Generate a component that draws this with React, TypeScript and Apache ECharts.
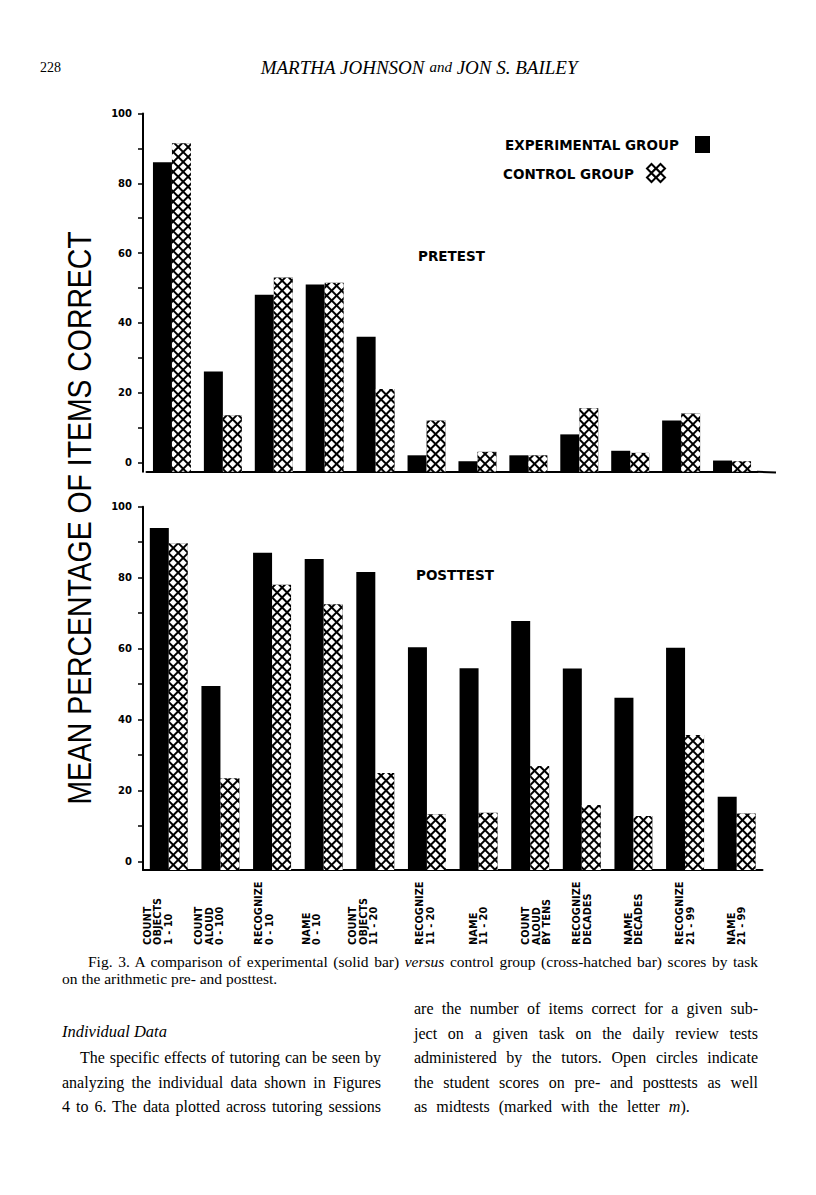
import React, { useEffect, useRef } from 'react';
import * as echarts from 'echarts';

// ---------------- data ----------------
const categories = [
  'COUNT\nOBJECTS\n1 - 10',
  'COUNT\nALOUD\n0 - 100',
  'RECOGNIZE\n0 - 10',
  'NAME\n0 - 10',
  'COUNT\nOBJECTS\n11 - 20',
  'RECOGNIZE\n11 - 20',
  'NAME\n11 - 20',
  'COUNT\nALOUD\nBY TENS',
  'RECOGNIZE\nDECADES',
  'NAME\nDECADES',
  'RECOGNIZE\n21 - 99',
  'NAME\n21 - 99',
];
const pretestExperimental = [86, 26, 48, 51, 36, 2, 0.3, 2, 8, 3.3, 12, 0.5];
const pretestControl = [91.5, 13.5, 53, 51.5, 21, 12, 3, 2, 15.5, 2.7, 14, 0.3];
const posttestExperimental = [94, 49.5, 87, 85.3, 81.6, 60.4, 54.5, 67.8, 54.4, 46.2, 60.3, 18.3];
const posttestControl = [89.7, 23.5, 78, 72.5, 25, 13.4, 13.8, 27, 16, 12.9, 35.7, 13.6];
const tickValues = [0, 10, 20, 30, 40, 50, 60, 70, 80, 90, 100];
const labelValues = [0, 20, 40, 60, 80, 100];
const legendNames = ['EXPERIMENTAL GROUP', 'CONTROL GROUP'];
const panelTitles = ['PRETEST', 'POSTTEST'];
const yTitle = 'MEAN PERCENTAGE OF ITEMS CORRECT';

// horizontal nudge (px) of each category label block, as printed
const labelShift = [-11, -11, -8, -12, -12, -2, 0, 6, 0, 0, 0, 0];

const BOLD = '"DejaVu Sans", Verdana, sans-serif';
const SANS = '"Liberation Sans", Arial, sans-serif';
const SERIF = '"Liberation Serif", "Times New Roman", serif';

const hatch = {
  symbol: 'rect',
  symbolSize: 1,
  color: '#fff',
  dashArrayX: [4.1, 1.7],
  dashArrayY: [4.1, 1.7],
  rotation: Math.PI / 4,
};

// spacer lines (rich styles) used to nudge the rotated label blocks sideways
const spacerRich: Record<string, any> = {};
labelShift.forEach((s) => {
  const h = Math.abs(2 * s);
  if (h > 0) spacerRich['g' + h] = { lineHeight: h, fontSize: 9.8, fontFamily: '"DejaVu Sans", sans-serif' };
});

function yAxisFor(gridIndex: number, min: number, offset: number) {
  return {
    type: 'value',
    gridIndex,
    min,
    max: 100,
    startValue: min,
    offset,
    axisLine: { show: true, lineStyle: { color: '#000', width: 2 } },
    axisTick: {
      show: true,
      inside: false,
      length: 5,
      lineStyle: { color: '#000', width: 1.5 },
      customValues: tickValues,
    },
    axisLabel: {
      show: true,
      margin: 11,
      color: '#000',
      fontFamily: BOLD,
      fontWeight: 'bold',
      fontSize: 10,
      customValues: labelValues,
    },
    splitLine: { show: false },
  };
}

function barSeries(name: string, axis: number, data: number[], hatched: boolean) {
  return {
    type: 'bar',
    name,
    xAxisIndex: axis,
    yAxisIndex: axis,
    data,
    barWidth: 19,
    barGap: '0%',
    itemStyle: hatched ? { color: '#000', decal: hatch } : { color: '#000' },
    emphasis: { disabled: true },
  };
}

function diamond(cx: number, cy: number, r: number) {
  return {
    type: 'polygon',
    shape: { points: [[cx, cy - r], [cx + r, cy], [cx, cy + r], [cx - r, cy]] },
    style: { fill: '#fff', stroke: '#000', lineWidth: 2 },
  };
}

function Chart() {
  const ref = useRef<HTMLDivElement>(null);
  useEffect(() => {
    if (!ref.current) return;
    const chart = echarts.init(ref.current, null, { renderer: 'svg' });
    chart.setOption({
      animation: false,
      backgroundColor: '#fff',
      grid: [
        { left: 146.5, top: 113.5, width: 611, height: 358.2, outerBoundsMode: 'none' },
        { left: 143, top: 506.7, width: 619.5, height: 363.2, outerBoundsMode: 'none' },
      ],
      xAxis: [
        {
          type: 'category',
          gridIndex: 0,
          data: categories,
          axisLine: { onZero: false, lineStyle: { color: '#000', width: 2 } },
          axisTick: { show: false },
          axisLabel: { show: false },
        },
        {
          type: 'category',
          gridIndex: 1,
          data: categories,
          axisLine: { onZero: false, lineStyle: { color: '#000', width: 2 } },
          axisTick: { show: false },
          axisLabel: {
            show: true,
            interval: 0,
            rotate: 90,
            margin: 75,
            align: 'left',
            verticalAlign: 'middle',
            color: '#000',
            fontFamily: BOLD,
            fontWeight: 'bold',
            fontSize: 9.8,
            lineHeight: 10.5,
            rich: spacerRich,
            formatter: (value: string, index: number) => {
              const s = labelShift[index] || 0;
              const h = Math.abs(2 * s);
              if (s < 0) return value + '\n{g' + h + '| }';
              if (s > 0) return '{g' + h + '| }\n' + value;
              return value;
            },
          },
        },
      ],
      yAxis: [yAxisFor(0, -2.7, 3.5), yAxisFor(1, -2.3, 0)],
      series: [
        barSeries(legendNames[0], 0, pretestExperimental, false),
        barSeries(legendNames[1], 0, pretestControl, true),
        barSeries(legendNames[0], 1, posttestExperimental, false),
        barSeries(legendNames[1], 1, posttestControl, true),
      ],
      graphic: [
        { type: 'text', x: 40, y: 67, style: { text: '228', font: `14px ${SERIF}`, fill: '#000', textVerticalAlign: 'middle' } },
        {
          type: 'text', x: 419, y: 67,
          style: {
            text: '{a|MARTHA JOHNSON }{b|and}{a| JON S. BAILEY}',
            textAlign: 'center', textVerticalAlign: 'middle', fill: '#000',
            rich: {
              a: { fontFamily: SERIF, fontStyle: 'italic', fontSize: 19, fill: '#000' },
              b: { fontFamily: SERIF, fontStyle: 'italic', fontSize: 15, fill: '#000' },
            },
          },
        },
        { type: 'text', x: 505, y: 145, style: { text: legendNames[0], font: `bold 13.5px ${BOLD}`, fill: '#000', textVerticalAlign: 'middle' } },
        { type: 'rect', shape: { x: 695, y: 136, width: 15, height: 17 }, style: { fill: '#000' } },
        { type: 'text', x: 503, y: 174, style: { text: legendNames[1], font: `bold 13.5px ${BOLD}`, fill: '#000', textVerticalAlign: 'middle' } },
        {
          type: 'group', x: 647, y: 164,
          children: [diamond(4.5, 4.5, 4.5), diamond(13.5, 4.5, 4.5), diamond(4.5, 13.5, 4.5), diamond(13.5, 13.5, 4.5), diamond(9, 9, 4.5)],
        },
        { type: 'text', x: 418, y: 256, style: { text: panelTitles[0], font: `bold 13.5px ${BOLD}`, fill: '#000', textVerticalAlign: 'middle' } },
        { type: 'text', x: 416, y: 575, style: { text: panelTitles[1], font: `bold 13.5px ${BOLD}`, fill: '#000', textVerticalAlign: 'middle' } },
        {
          type: 'text', x: 80, y: 518, rotation: Math.PI / 2, scaleX: 0.86,
          style: { text: yTitle, font: `33px ${SANS}`, fill: '#000', textAlign: 'center', textVerticalAlign: 'middle' },
        },
        { type: 'line', shape: { x1: 757, y1: 471.7, x2: 776, y2: 472.5 }, style: { stroke: '#000', lineWidth: 2 } },
      ],
    });
    return () => chart.dispose();
  }, []);
  return <div ref={ref} style={{ position: 'absolute', left: 0, top: 0, width: 816, height: 1195 }} />;
}

const line = (left: number, top: number, width: number | undefined, size: number, justify: boolean): React.CSSProperties => ({
  position: 'absolute',
  left,
  top,
  width,
  fontFamily: SERIF,
  fontSize: size,
  lineHeight: '20px',
  color: '#000',
  whiteSpace: 'nowrap',
  textAlign: justify ? 'justify' : 'left',
  textAlignLast: justify ? 'justify' : 'left',
});

export default function App() {
  return (
    <div style={{ position: 'absolute', left: 0, top: 0, width: 816, height: 1195, background: '#fff', overflow: 'hidden' }}>
      <Chart />
      <div style={{ position: 'absolute', left: 0, top: 0, width: 816, height: 1195, pointerEvents: 'none' }}>
        <div style={line(88, 952, 670, 15.5, true)}>
          Fig. 3. A comparison of experimental (solid bar) <i>versus</i> control group (cross-hatched bar) scores by task
        </div>
        <div style={line(62, 969, undefined, 15.5, false)}>on the arithmetic pre- and posttest.</div>
        <div style={line(62, 1022, undefined, 16.5, false)}><i>Individual Data</i></div>
        <div style={line(80, 1048, 301, 16, true)}>The specific effects of tutoring can be seen by</div>
        <div style={line(62, 1073, 319, 16, true)}>analyzing the individual data shown in Figures</div>
        <div style={line(62, 1097, 319, 16, true)}>4 to 6. The data plotted across tutoring sessions</div>
        <div style={line(414, 999, 344, 16, true)}>are the number of items correct for a given sub-</div>
        <div style={line(414, 1024, 344, 16, true)}>ject on a given task on the daily review tests</div>
        <div style={line(414, 1048, 344, 16, true)}>administered by the tutors. Open circles indicate</div>
        <div style={line(414, 1073, 344, 16, true)}>the student scores on pre- and posttests as well</div>
        <div style={{ ...line(414, 1097, undefined, 16, false), wordSpacing: 5 }}>as midtests (marked with the letter <i>m</i>).</div>
      </div>
    </div>
  );
}
